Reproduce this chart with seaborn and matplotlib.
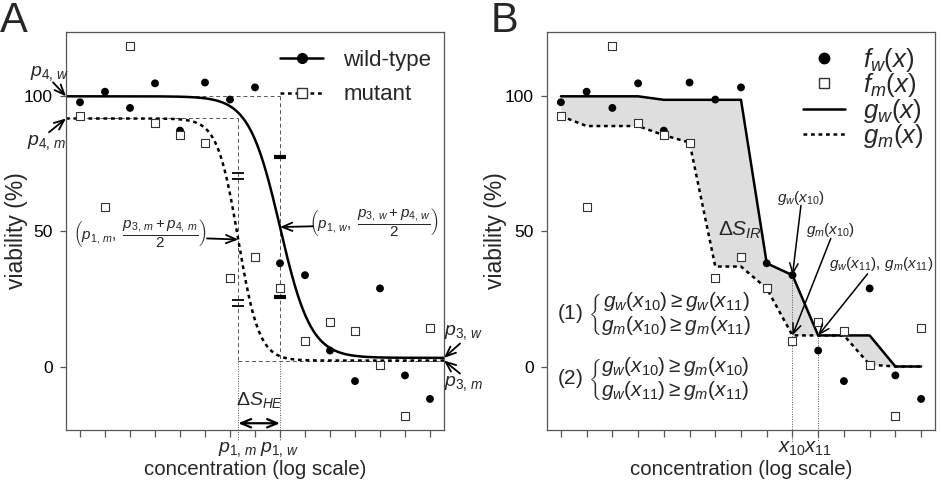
import numpy as np
import matplotlib
matplotlib.use("Agg")
import matplotlib.pyplot as plt
from matplotlib.lines import Line2D
import seaborn as sns

# data (same raw data in both panels)
conc = np.arange(1, 16)
wild = [97.8, 101.7, 95.7, 104.8, 87.3, 105.1, 98.8, 103.3, 38.2, 33.8, 5.9, -5.4, 28.9, -3.3, -12.0]
mutant = [92.7, 59.2, 118.5, 90.1, 85.6, 82.9, 32.9, 40.7, 28.9, 9.6, 16.3, 13.2, 0.7, -18.5, 14.1]

# monotone fits shown in panel B
g_wild = [100, 100, 100, 100, 98.7, 98.7, 98.7, 98.7, 38.2, 33.8, 11.5, 11.5, 11.5, 0, 0]
g_mut = [92.7, 89.0, 89.0, 89.0, 85.6, 82.9, 37.0, 37.0, 28.9, 11.5, 11.5, 11.5, 0.7, 0, 0]

# 4PL parameters of panel A: p1 midpoint, p2 slope, p3 bottom, p4 top
p_w = dict(p1=9.0, p2=1.62, p3=3.2, p4=100.0)
p_m = dict(p1=7.33, p2=2.4, p3=2.2, p4=91.8)
hash_w = 25.8
hash_m = 23.5

XLIM_A = (0.44, 15.56)
XLIM_B = (0.46, 15.54)
YLIM = (-23.5, 123.8)
GREY = "#555555"


def fpl(x, p):
    return p["p3"] + (p["p4"] - p["p3"]) / (1 + np.exp(p["p2"] * (x - p["p1"])))


sns.set_theme(style="ticks")
plt.rcParams.update({
    "font.family": ["Liberation Sans", "DejaVu Sans"],
    "mathtext.fontset": "custom",
    "mathtext.rm": "Liberation Sans",
    "mathtext.it": "Liberation Sans:italic",
    "mathtext.bf": "Liberation Sans:bold",
    "axes.edgecolor": GREY,
    "axes.linewidth": 0.9,
    "xtick.color": GREY,
    "ytick.color": GREY,
    "xtick.labelcolor": "black",
    "ytick.labelcolor": "black",
})

W, H = 941, 483
fig = plt.figure(figsize=(W / 100, H / 100), dpi=100)


def px_axes(l, t, r, b):
    return fig.add_axes([l / W, 1 - b / H, (r - l) / W, (b - t) / H])


axA = px_axes(66, 32, 444, 430)
axB = px_axes(547, 32, 935, 430)


def style(ax, xlim, ylab_x):
    ax.set_xlim(*xlim)
    ax.set_ylim(*YLIM)
    ax.set_xticks(conc)
    ax.set_xticklabels([])
    ax.set_yticks([0, 50, 100])
    ax.tick_params(axis="x", length=5, width=0.9, direction="out")
    ax.tick_params(axis="y", length=4.5, width=0.9, labelsize=12.5, pad=5)
    ax.set_xlabel("concentration (log scale)", fontsize=14.7)
    ax.set_ylabel("viability (%)", fontsize=16.5)
    ax.xaxis.set_label_coords(0.5, -0.075)
    ax.yaxis.set_label_coords(ylab_x, 0.5)
    for s in ax.spines.values():
        s.set_visible(True)


def arrow(ax, start, tip, lw=1.3):
    ax.annotate("", xy=tip, xytext=start, annotation_clip=False,
                arrowprops=dict(arrowstyle="->,head_length=0.6,head_width=0.25",
                                lw=lw, color="black", shrinkA=0, shrinkB=0))


ref = dict(color=GREY, lw=0.7, ls=(0, (4, 3)))
dot = dict(color=GREY, lw=0.7, ls=(0, (1, 1.5)), clip_on=False)
dotted = (0, (1.5, 1.5))

# ---------------- panel A ----------------
style(axA, XLIM_A, -0.1005)
xs = np.linspace(*XLIM_A, 400)
mid_w = (p_w["p3"] + p_w["p4"]) / 2
mid_m = (p_m["p3"] + p_m["p4"]) / 2

axA.plot([XLIM_A[0], p_w["p1"]], [p_w["p4"]] * 2, **ref)
axA.plot([XLIM_A[0], p_m["p1"]], [p_m["p4"]] * 2, **ref)
axA.plot([p_m["p1"], XLIM_A[1]], [p_m["p3"]] * 2, **ref)
axA.plot([p_w["p1"]] * 2, [p_w["p4"], p_m["p3"]], **ref)
axA.plot([p_m["p1"]] * 2, [p_m["p4"], p_m["p3"]], **ref)
axA.plot([p_w["p1"]] * 2, [p_m["p3"], -27.5], **dot)
axA.plot([p_m["p1"]] * 2, [p_m["p3"], -27.5], **dot)

sns.lineplot(x=xs, y=fpl(xs, p_w), ax=axA, color="black", lw=1.8)
sns.lineplot(x=xs, y=fpl(xs, p_m), ax=axA, color="black", lw=1.8, linestyle=dotted)
sns.scatterplot(x=conc, y=wild, ax=axA, color="black", s=32, edgecolor="none", zorder=3)
sns.scatterplot(x=conc, y=mutant, ax=axA, marker="s", s=30, facecolor="white",
                edgecolor="#333333", linewidth=0.8, zorder=3)

# equal-distance marks
for sgn in (1, -1):
    axA.plot([p_w["p1"]], [mid_w + sgn * hash_w], marker="_", ms=9, mew=3, color="black")
    for d in (1.1, -1.1):
        axA.plot([p_m["p1"]], [mid_m + sgn * hash_m + d], marker="_", ms=8, mew=1.3, color="black")

axA.text(-0.2, 108.5, r"$p_{4,\,w}$", fontsize=14, ha="center", va="center")
arrow(axA, (-0.08, 105.2), (XLIM_A[0], p_w["p4"]))
axA.text(-0.32, 83, r"$p_{4,\,m}$", fontsize=14, ha="center", va="center")
arrow(axA, (-0.24, 86.7), (XLIM_A[0], p_m["p4"]))
axA.text(16.36, 12.6, r"$p_{3,\,w}$", fontsize=14, ha="center", va="center")
arrow(axA, (16.2, 8.5), (XLIM_A[1], p_w["p3"]))
axA.text(16.36, -6.3, r"$p_{3,\,m}$", fontsize=14, ha="center", va="center")
arrow(axA, (16.2, -2.6), (XLIM_A[1], p_m["p3"]))

axA.text(3.4, 49.3, r"$\left(p_{1,\,m},\ \dfrac{p_{3,\,m}+p_{4,\,m}}{2}\right)$",
         fontsize=11, ha="center", va="center")
arrow(axA, (6.08, 47.4), (p_m["p1"], mid_m))
axA.text(12.76, 53.3, r"$\left(p_{1,\,w},\ \dfrac{p_{3,\,w}+p_{4,\,w}}{2}\right)$",
         fontsize=11, ha="center", va="center")
arrow(axA, (10.32, 51.9), (p_w["p1"], mid_w))

axA.text((p_m["p1"] + p_w["p1"]) / 2, -12.5, r"$\Delta S_{HE}$", fontsize=14,
         ha="center", va="center")
axA.annotate("", xy=(p_w["p1"], -21), xytext=(p_m["p1"], -21),
             arrowprops=dict(arrowstyle="<->,head_length=0.6,head_width=0.25",
                             lw=1.6, color="black", shrinkA=0, shrinkB=0))
axA.text(p_m["p1"], -30.6, r"$p_{1,\,m}$", fontsize=14, ha="center", va="center")
axA.text(p_w["p1"], -30.6, r"$p_{1,\,w}$", fontsize=14, ha="center", va="center")

legA = [Line2D([], [], color="black", lw=1.8, marker="o", ms=7),
        Line2D([], [], color="black", lw=1.8, ls=dotted, marker="s", ms=7,
               mfc="white", mec="#333333", mew=1)]
axA.legend(legA, ["wild-type", "mutant"], loc="upper left",
           bbox_to_anchor=(280 / W, 1 - 50 / H), bbox_transform=fig.transFigure,
           frameon=False, fontsize=16, handlelength=1.95, handletextpad=0.9,
           labelspacing=0.6, borderpad=0, borderaxespad=0)

# ---------------- panel B ----------------
style(axB, XLIM_B, -0.103)
axB.fill_between(conc, g_mut, g_wild, color="#dedede", lw=0)
axB.plot([10, 10], [g_wild[9], -28], **dot)
axB.plot([11, 11], [g_wild[10], -28], **dot)
sns.lineplot(x=conc, y=g_wild, ax=axB, color="black", lw=1.8)
sns.lineplot(x=conc, y=g_mut, ax=axB, color="black", lw=1.8, linestyle=dotted)
sns.scatterplot(x=conc, y=wild, ax=axB, color="black", s=32, edgecolor="none", zorder=3)
sns.scatterplot(x=conc, y=mutant, ax=axB, marker="s", s=30, facecolor="white",
                edgecolor="#333333", linewidth=0.8, zorder=3)

axB.text(7.98, 50.4, r"$\Delta S_{IR}$", fontsize=15, ha="center", va="center")
axB.text(10.33, 62.2, r"$g_w(x_{10})$", fontsize=11, ha="center", va="center")
arrow(axB, (10.33, 59.6), (10, g_wild[9]), lw=1.1)
axB.text(11.49, 50.4, r"$g_m(x_{10})$", fontsize=11, ha="center", va="center")
arrow(axB, (11.49, 47.4), (10, g_mut[9]), lw=1.1)
axB.text(13.46, 38, r"$g_w(x_{11}),\,g_m(x_{11})$", fontsize=11, ha="center", va="center")
arrow(axB, (12.92, 34.3), (11, g_mut[10]), lw=1.1)

eq1 = (r"$(1)\ \left\{\genfrac{}{}{0}{0}{g_w(x_{10}) \geq g_w(x_{11})}"
       r"{g_m(x_{10}) \geq g_m(x_{11})}\right.$")
eq2 = (r"$(2)\ \left\{\genfrac{}{}{0}{0}{g_w(x_{10}) \geq g_m(x_{10})}"
       r"{g_w(x_{11}) \geq g_m(x_{11})}\right.$")
axB.text(0.85, 19.4, eq1, fontsize=15, ha="left", va="center")
axB.text(0.85, -4.9, eq2, fontsize=15, ha="left", va="center")

axB.text(10, -30.4, r"$x_{10}$", fontsize=14.5, ha="center", va="center")
axB.text(11, -30.4, r"$x_{11}$", fontsize=14.5, ha="center", va="center")

legB = [Line2D([], [], ls="none", marker="o", color="black", ms=7.5),
        Line2D([], [], ls="none", marker="s", ms=7, mfc="white", mec="#333333", mew=1),
        Line2D([], [], color="black", lw=1.8),
        Line2D([], [], color="black", lw=1.8, ls=dotted)]
axB.legend(legB, [r"$f_w(x)$", r"$f_m(x)$", r"$g_w(x)$", r"$g_m(x)$"], loc="upper left",
           bbox_to_anchor=(803 / W, 1 - 46 / H), bbox_transform=fig.transFigure,
           frameon=False, fontsize=18.5, handlelength=1.65, handletextpad=0.7,
           labelspacing=-0.1, borderpad=0, borderaxespad=0)

fig.text(0 / W, 1 - 1 / H, "A", fontsize=30, ha="left", va="top")
fig.text(491 / W, 1 - 1 / H, "B", fontsize=30, ha="left", va="top")

fig.savefig("out.png", dpi=100)
